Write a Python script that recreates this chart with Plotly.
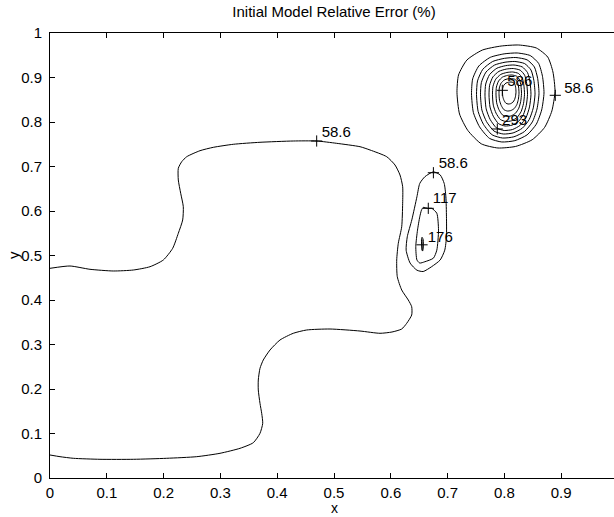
import plotly.graph_objects as go

title_text = "Initial Model Relative Error (%)"
x_label = "x"
y_label = "y"

x_ticks = [0, 0.1, 0.2, 0.3, 0.4, 0.5, 0.6, 0.7, 0.8, 0.9]
x_tick_labels = ["0", "0.1", "0.2", "0.3", "0.4", "0.5", "0.6", "0.7", "0.8", "0.9"]
y_ticks = [0, 0.1, 0.2, 0.3, 0.4, 0.5, 0.6, 0.7, 0.8, 0.9, 1.0]
y_tick_labels = ["0", "0.1", "0.2", "0.3", "0.4", "0.5", "0.6", "0.7", "0.8", "0.9", "1"]

# 58.6 % contour: long open curve crossing the left edge twice
main_x = [0.0, 0.0352, 0.0704, 0.1114, 0.1467, 0.1761, 0.1995, 0.2160, 0.2259, 0.2336,
          0.2347, 0.2301, 0.2259, 0.2259, 0.2319, 0.2407, 0.2641, 0.2875, 0.3227, 0.3697,
          0.4283, 0.4695, 0.5047, 0.5458, 0.5634, 0.5928, 0.6074, 0.6162, 0.6209, 0.6209,
          0.6192, 0.6132, 0.6104, 0.6114, 0.6192, 0.6308, 0.6368, 0.6368, 0.6280, 0.6192,
          0.6021, 0.5810, 0.5458, 0.4930, 0.4519, 0.4283, 0.4049, 0.3873, 0.3755, 0.3697,
          0.3667, 0.3667, 0.3697, 0.3727, 0.3745, 0.3697, 0.3579, 0.3345, 0.2993, 0.2583,
          0.2055, 0.1467, 0.0880, 0.0410, 0.0176, 0.0]
main_y = [0.4712, 0.4764, 0.4690, 0.4652, 0.4674, 0.4748, 0.4899, 0.5162, 0.5499, 0.5798,
          0.6097, 0.6398, 0.6697, 0.6960, 0.7108, 0.7220, 0.7355, 0.7431, 0.7499, 0.7544,
          0.7573, 0.7573, 0.7521, 0.7445, 0.7371, 0.7220, 0.7034, 0.6809, 0.6546, 0.6173,
          0.5647, 0.5274, 0.4899, 0.4524, 0.4225, 0.4000, 0.3849, 0.3663, 0.3476, 0.3348,
          0.3281, 0.3252, 0.3303, 0.3348, 0.3326, 0.3252, 0.3101, 0.2876, 0.2652, 0.2465,
          0.2202, 0.1978, 0.1679, 0.1454, 0.1229, 0.1004, 0.0793, 0.0667, 0.0555, 0.0479,
          0.0443, 0.0420, 0.0420, 0.0443, 0.0479, 0.0517]

# small closed contours near x = 0.66
small586_x = [0.675, 0.687, 0.694, 0.697, 0.698, 0.698, 0.695, 0.687, 0.672, 0.657,
              0.646, 0.634, 0.627, 0.629, 0.637, 0.646, 0.651, 0.660, 0.675]
small586_y = [0.688, 0.681, 0.662, 0.632, 0.587, 0.542, 0.512, 0.490, 0.475, 0.464,
              0.467, 0.483, 0.512, 0.542, 0.580, 0.632, 0.662, 0.677, 0.688]
small117_x = [0.657, 0.666, 0.672, 0.681, 0.684, 0.681, 0.675, 0.660, 0.651, 0.646,
              0.644, 0.647, 0.651, 0.654, 0.657]
small117_y = [0.608, 0.606, 0.606, 0.595, 0.557, 0.512, 0.494, 0.486, 0.483, 0.490,
              0.520, 0.557, 0.587, 0.602, 0.608]
small176_x = [0.655, 0.657, 0.657, 0.656, 0.655, 0.654, 0.655]
small176_y = [0.541, 0.536, 0.515, 0.510, 0.515, 0.536, 0.541]

# nested rings of the peak near (0.81, 0.86): extents of each level
peak_levels = [58.6, 117, 176, 234, 293, 352, 410, 469, 527, 586]
peak_left = [0.7165, 0.7421, 0.7509, 0.7579, 0.7658, 0.7729, 0.7790, 0.7852, 0.7905, 0.7966]
peak_right = [0.8891, 0.8697, 0.8609, 0.8539, 0.8468, 0.8407, 0.8354, 0.8301, 0.8257, 0.8204]
peak_top = [0.9730, 0.9551, 0.9449, 0.9360, 0.9281, 0.9202, 0.9124, 0.9056, 0.8978, 0.8899]
peak_bottom = [0.7416, 0.7551, 0.7640, 0.7730, 0.7809, 0.7910, 0.8011, 0.8124, 0.8247, 0.8404]
# outline of the rings (fraction of width from left, fraction of height from top)
ring_u = [0.630, 0.810, 0.926, 0.979, 1.0, 0.968, 0.894, 0.767, 0.598, 0.418,
          0.249, 0.111, 0.026, 0.0, 0.016, 0.101, 0.259, 0.450, 0.630]
ring_v = [0.0, 0.029, 0.117, 0.262, 0.45, 0.64, 0.80, 0.92, 0.985, 1.0,
          0.96, 0.83, 0.67, 0.46, 0.291, 0.146, 0.049, 0.010, 0.0]

# contour labels: "+" marker position and text position
label_text = ["58.6", "58.6", "117", "176", "586", "293", "58.6"]
label_mark_x = [0.4695, 0.675, 0.666, 0.655, 0.7963, 0.7875, 0.8896]
label_mark_y = [0.7573, 0.686, 0.606, 0.524, 0.8712, 0.7843, 0.860]
label_text_x = [0.504, 0.710, 0.695, 0.687, 0.827, 0.818, 0.931]
label_text_y = [0.775, 0.706, 0.627, 0.539, 0.890, 0.802, 0.874]

FONT = "Liberation Sans, Arial, Helvetica, sans-serif"
FS = 15
line_style = dict(color="black", width=1, shape="spline", smoothing=0.6)

fig = go.Figure()
fig.add_trace(go.Scatter(x=main_x, y=main_y, mode="lines", line=line_style, hoverinfo="skip"))
for xs, ys in [(small586_x, small586_y), (small117_x, small117_y), (small176_x, small176_y)]:
    fig.add_trace(go.Scatter(x=xs, y=ys, mode="lines", line=line_style, hoverinfo="skip"))
for i, lev in enumerate(peak_levels):
    L, R, T, B = peak_left[i], peak_right[i], peak_top[i], peak_bottom[i]
    xs = [L + u * (R - L) for u in ring_u]
    ys = [T - v * (T - B) for v in ring_v]
    fig.add_trace(go.Scatter(x=xs, y=ys, mode="lines", line=line_style, name=str(lev), hoverinfo="skip"))

fig.add_trace(go.Scatter(x=label_mark_x, y=label_mark_y, mode="markers",
                         marker=dict(symbol="cross-thin", size=8, line=dict(color="black", width=1)),
                         hoverinfo="skip"))
fig.add_trace(go.Scatter(x=label_text_x, y=label_text_y, mode="text", text=label_text,
                         textposition="middle center",
                         textfont=dict(family=FONT, size=FS, color="black"), hoverinfo="skip"))

W, H = 614, 517
ml, mt, mb = 50, 33, 39
plot_w = W - ml
plot_h = H - mt - mb
x_full = 568.0  # pixel length of the 0..1 x axis (clipped at the window edge)

fig.update_layout(
    width=W, height=H,
    margin=dict(l=ml, r=0, t=mt, b=mb, pad=0),
    paper_bgcolor="white", plot_bgcolor="white",
    showlegend=False,
    font=dict(family=FONT, size=FS, color="black"),
    title=dict(text=title_text, x=334 / W, xref="container", xanchor="center",
               y=1 - 12 / H, yref="container", yanchor="middle",
               font=dict(family=FONT, size=FS, color="black")),
    xaxis=dict(range=[0, plot_w / x_full], tickvals=x_ticks, ticktext=x_tick_labels,
               ticks="inside", ticklen=5, tickwidth=1, tickcolor="black",
               showline=True, linecolor="black", linewidth=1, mirror="ticks",
               showgrid=False, zeroline=False, ticklabelstandoff=1,
               tickfont=dict(family=FONT, size=FS, color="black")),
    yaxis=dict(range=[0, 1], tickvals=y_ticks, ticktext=y_tick_labels,
               ticks="inside", ticklen=5, tickwidth=1, tickcolor="black",
               showline=True, linecolor="black", linewidth=1, mirror=False,
               showgrid=False, zeroline=False, ticklabelstandoff=4,
               tickfont=dict(family=FONT, size=FS, color="black")),
    annotations=[
        dict(text=x_label, xref="paper", yref="paper", x=(334.8 - ml) / plot_w,
             y=(H - mb - 517) / plot_h, xanchor="center", yanchor="bottom",
             borderpad=0, showarrow=False, font=dict(family=FONT, size=14, color="black")),
        dict(text=y_label, xref="paper", yref="paper", x=(14 - ml) / plot_w,
             y=(H - mb - 255) / plot_h, xanchor="center", yanchor="middle",
             textangle=-90, showarrow=False, font=dict(family=FONT, size=FS, color="black")),
    ],
)

fig.write_html("out.html")
